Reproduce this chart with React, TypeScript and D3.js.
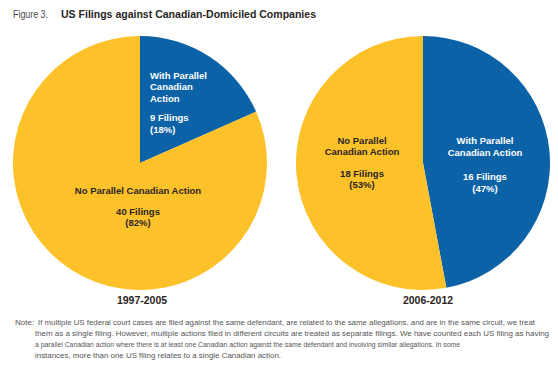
import * as d3 from 'd3';

const periods = ['1997-2005', '2006-2012'];
const withParallel = [9, 16];
const noParallel = [40, 18];
const categories = ['With Parallel Canadian Action', 'No Parallel Canadian Action'];

const noteLines = [
  'If multiple US federal court cases are filed against the same defendant, are related to the same allegations, and are in the same circuit, we treat',
  'them as a single filing. However, multiple actions filed in different circuits are treated as separate filings. We have counted each US filing as having',
  'a parallel Canadian action where there is at least one Canadian action against the same defendant and involving similar allegations. In some',
  'instances, more than one US filing relates to a single Canadian action.',
];
const noteWidths = [497, 514, 425, 246];

const W = 558;
const H = 371;
const R = 127;
const centers = [
  { x: 140, y: 163 },
  { x: 423, y: 163 },
];

const colors = d3.scaleOrdinal<string, string>()
  .domain(categories)
  .range(['#0b62a6', '#fdc12a']);

const labelFont = '"Liberation Sans Narrow", "Liberation Sans", Arial, sans-serif';
const dark = '#2a2523';

// label layouts per pie / slice: lines of the name, anchor, offsets from the pie centre
const layouts = [
  [
    { lines: ['With Parallel', 'Canadian', 'Action'], anchor: 'start', dx: 10, dy: -84.5, lh: 11.8, gap: 19, fill: '#fff' },
    { lines: ['No Parallel Canadian Action'], anchor: 'middle', dx: -2, dy: 30.5, lh: 11, gap: 21.5, fill: dark },
  ],
  [
    { lines: ['With Parallel', 'Canadian Action'], anchor: 'middle', dx: 62, dy: -19, lh: 12, gap: 24, fill: '#fff' },
    { lines: ['No Parallel', 'Canadian Action'], anchor: 'middle', dx: -61, dy: -19.5, lh: 11, gap: 22, fill: dark },
  ],
];

const pie = d3.pie<number>().sort(null).value((d) => d);
const arc = d3.arc<d3.PieArcDatum<number>>().innerRadius(0).outerRadius(R);

export default function App() {
  return (
    <svg width={W} height={H} style={{ position: 'absolute', left: 0, top: 0, background: '#fff' }}>
      <text x={13} y={18} fontFamily={labelFont} fontSize={11} fill="#4a4a4a" textLength={35} lengthAdjust="spacingAndGlyphs">
        Figure 3.
      </text>
      <text x={61} y={18} fontFamily={labelFont} fontSize={11} fontWeight="bold" fill={dark} textLength={255} lengthAdjust="spacingAndGlyphs">
        US Filings against Canadian-Domiciled Companies
      </text>

      {periods.map((period, i) => {
        const values = [withParallel[i], noParallel[i]];
        const total = d3.sum(values);
        const arcs = pie(values);
        const c = centers[i];
        return (
          <g key={period} transform={`translate(${c.x}, ${c.y})`}>
            {arcs.map((a, j) => (
              <path key={j} d={arc(a) || ''} fill={colors(categories[j])} />
            ))}
            {arcs.map((a, j) => {
              const L = layouts[i][j];
              const y0 = L.dy;
              const lastY = y0 + L.lh * (L.lines.length - 1);
              return (
                <text key={'t' + j} fontFamily={labelFont} fontSize={9.5} fontWeight="bold" fill={L.fill} textAnchor={L.anchor}>
                  {L.lines.map((ln, k) => (
                    <tspan key={k} x={L.dx} y={y0 + L.lh * k}>{ln}</tspan>
                  ))}
                  <tspan x={L.dx} y={lastY + L.gap}>{`${values[j]} Filings`}</tspan>
                  <tspan x={L.dx} y={lastY + L.gap + L.lh}>{`(${Math.round((values[j] / total) * 100)}%)`}</tspan>
                </text>
              );
            })}
            <text x={i === 0 ? 2 : 5} y={141} textAnchor="middle" fontFamily={labelFont} fontSize={10.5} fontWeight="bold" fill={dark}>
              {period}
            </text>
          </g>
        );
      })}

      <text x={15} y={325} fontFamily={labelFont} fontSize={8} fill="#555">Note:</text>
      {noteLines.map((ln, i) => (
        <text key={i} x={i === 0 ? 38 : 35} y={325 + i * 11} fontFamily={labelFont} fontSize={7.2} fill="#555"
          textLength={noteWidths[i]} lengthAdjust="spacingAndGlyphs">
          {ln}
        </text>
      ))}
    </svg>
  );
}
